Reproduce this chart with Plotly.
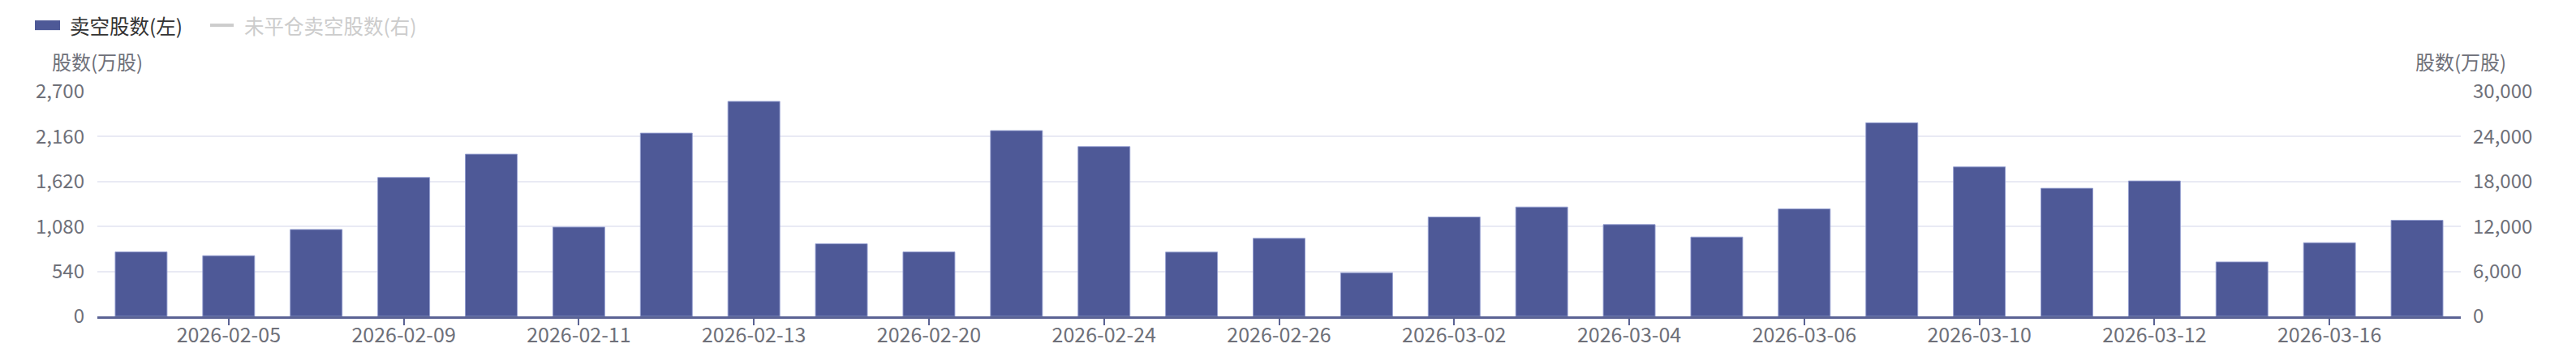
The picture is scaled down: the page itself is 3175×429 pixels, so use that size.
import plotly.graph_objects as go

# ---- data ----
dates = [
    "2026-02-04", "2026-02-05", "2026-02-06", "2026-02-09", "2026-02-10",
    "2026-02-11", "2026-02-12", "2026-02-13", "2026-02-16", "2026-02-20",
    "2026-02-23", "2026-02-24", "2026-02-25", "2026-02-26", "2026-02-27",
    "2026-03-02", "2026-03-03", "2026-03-04", "2026-03-05", "2026-03-06",
    "2026-03-09", "2026-03-10", "2026-03-11", "2026-03-12", "2026-03-13",
    "2026-03-16", "2026-03-17",
]
short_shares = [
    774, 729, 1044, 1669, 1949,
    1073, 2202, 2583, 872, 774,
    2232, 2040, 772, 937, 524,
    1194, 1314, 1103, 953, 1291,
    2326, 1796, 1539, 1627, 654,
    885, 1155,
]
series_names = ["卖空股数(左)", "未平仓卖空股数(右)"]
axis_title = "股数(万股)"
left_ticks = [0, 540, 1080, 1620, 2160, 2700]
right_ticks = [0, 6000, 12000, 18000, 24000, 30000]
tick_dates = dates[1::2]

# ---- layout geometry (page pixels; the page body has an 8px margin) ----
OFF = 8
W, H = 3175 - OFF, 429 - OFF
PL, PR, PT, PB = 120, 3033, 113, 390.5   # plot area in page pixels
FONT = "Noto Sans CJK SC, Noto Sans, sans-serif"
BAR = "rgb(78,89,151)"
AXIS = "#5b6394"
LABEL = "#6e7079"


def px(x):
    return (x - PL) / (PR - PL)


def py(y):
    return (PB - y) / (PB - PT)


fig = go.Figure()
fig.add_trace(go.Bar(
    x=dates, y=short_shares, name=series_names[0],
    marker=dict(color=BAR, line=dict(color="rgba(150,160,210,0.9)", width=1)),
    showlegend=False, yaxis="y",
))

fig.update_layout(
    width=W, height=H,
    margin=dict(l=PL - OFF, r=3175 - PR, t=PT - OFF, b=429 - PB, pad=0,
                autoexpand=False),
    paper_bgcolor="white", plot_bgcolor="white",
    font=dict(family=FONT, size=24, color=LABEL),
    bargap=0.407,
    showlegend=False,
    xaxis=dict(
        type="category", showgrid=False, automargin=False,
        showline=True, linecolor=AXIS, linewidth=3,
        ticks="outside", ticklen=8, tickwidth=1.5, tickcolor=AXIS,
        tickvals=tick_dates, ticktext=tick_dates,
        tickfont=dict(size=25, color=LABEL), ticklabelstandoff=-9,
        range=[-0.5, len(dates) - 0.5],
    ),
    yaxis=dict(
        range=[0, 2700], tickvals=left_ticks, tickformat=",", automargin=False,
        showgrid=True, gridcolor="#e9eaf4", gridwidth=1.5,
        zeroline=False, showline=False, ticks="",
        tickfont=dict(size=24, color=LABEL), ticklabelstandoff=15,
    ),
    yaxis2=dict(
        overlaying="y", side="right", range=[0, 30000], tickvals=right_ticks,
        tickformat=",", showgrid=False, zeroline=False, showline=False,
        automargin=False,
        ticks="", tickfont=dict(size=24, color=LABEL), ticklabelstandoff=14,
    ),
)

# hidden (legend-disabled) right-axis series, kept only to attach the right axis
fig.add_trace(go.Scatter(x=[], y=[], yaxis="y2", mode="lines",
                         name=series_names[1], showlegend=False,
                         line=dict(color="#ccc")))

# axis titles
fig.add_annotation(x=px(PL), y=py(75), xref="paper", yref="paper",
                   text=axis_title, showarrow=False, xanchor="center",
                   yanchor="middle", font=dict(size=24, color=LABEL))
fig.add_annotation(x=px(PR), y=py(75), xref="paper", yref="paper",
                   text=axis_title, showarrow=False, xanchor="center",
                   yanchor="middle", font=dict(size=24, color=LABEL))

# custom legend
fig.add_shape(type="rect", xref="paper", yref="paper",
              x0=px(43), x1=px(74), y0=py(37), y1=py(25),
              fillcolor=BAR, line=dict(width=0))
fig.add_annotation(x=px(84), y=py(31), xref="paper", yref="paper",
                   text=series_names[0], showarrow=False, xanchor="left",
                   yanchor="middle", font=dict(size=24.5, color="#333"))
fig.add_shape(type="line", xref="paper", yref="paper",
              x0=px(259), x1=px(288), y0=py(31), y1=py(31),
              line=dict(color="#ccc", width=4))
fig.add_annotation(x=px(299), y=py(31), xref="paper", yref="paper",
                   text=series_names[1], showarrow=False, xanchor="left",
                   yanchor="middle", font=dict(size=24.5, color="#ccc"))

fig.write_html("out.html")
